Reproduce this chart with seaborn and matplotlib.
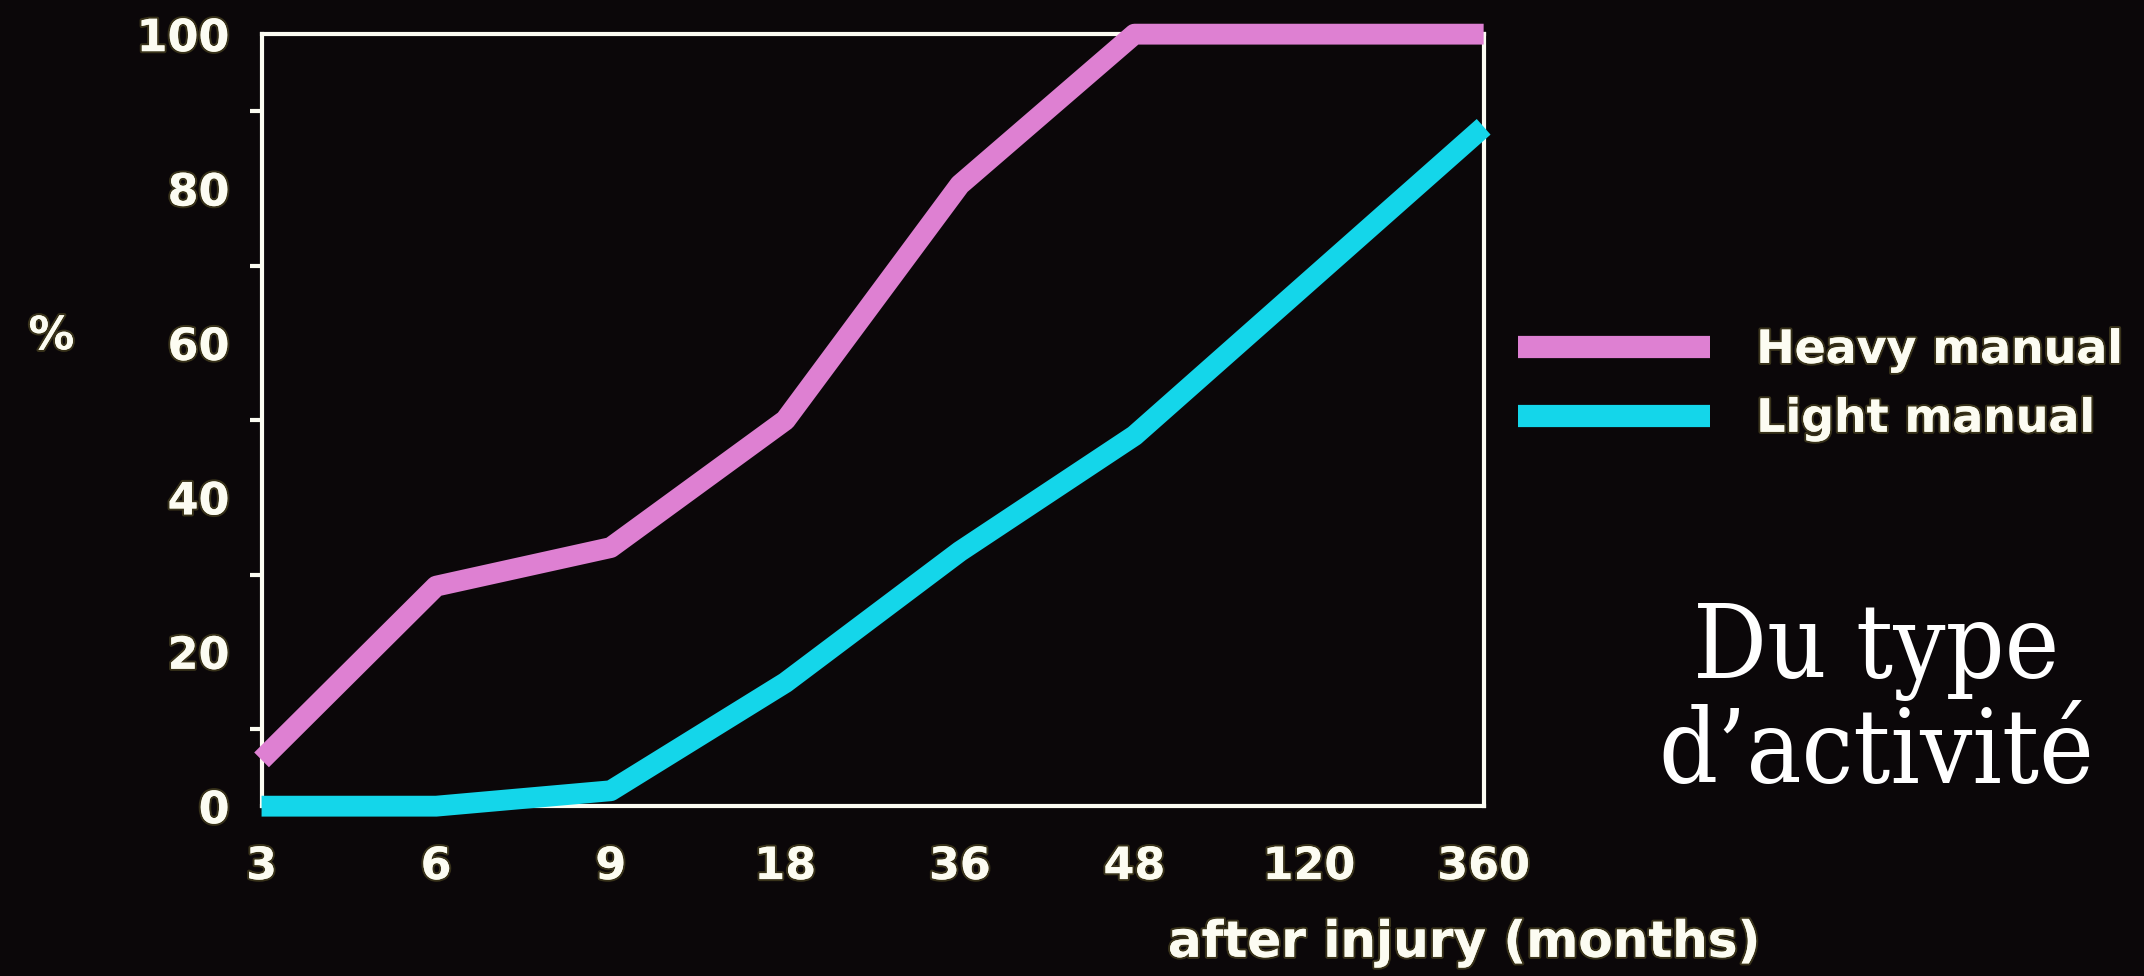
import pandas as pd
import matplotlib.pyplot as plt
import matplotlib.patheffects as pe
import seaborn as sns
from matplotlib.ticker import MultipleLocator

# ── Data ──────────────────────────────────────────────
months = ['3', '6', '9', '18', '36', '48', '120', '360']
heavy_manual = [6, 28.5, 33.5, 50, 80.5, 100, 100, 100]
light_manual = [0, 0, 2, 16, 33, 48, 68, 88]
series_names = ['Heavy manual', 'Light manual']
y_ticks = [0, 20, 40, 60, 80, 100]

df = pd.DataFrame({
    'months': months * 2,
    'pct': heavy_manual + light_manual,
    'group': [series_names[0]] * len(months) + [series_names[1]] * len(months),
})

BG = '#0b0709'
INK = '#FCFCF2'
PINK = '#DE80D2'
CYAN = '#14D6EA'

sns.set_theme(style='dark')
plt.rcParams['font.family'] = ['DejaVu Sans']
plt.rcParams['figure.facecolor'] = BG
plt.rcParams['axes.facecolor'] = BG

glow = [pe.withStroke(linewidth=3, foreground=(0.85, 0.8, 0.35, 0.22))]

fig = plt.figure(figsize=(21.44, 9.76), dpi=100)
ax = fig.add_axes([0.122, 0.174, 0.570, 0.791])

sns.lineplot(data=df, x='months', y='pct', hue='group',
             palette={series_names[0]: PINK, series_names[1]: CYAN},
             linewidth=15, ax=ax, legend=True, zorder=5)
for ln in ax.lines:
    ln.set_clip_on(False)
    ln.set_solid_capstyle('butt')

ax.set_xlim(0, len(months) - 1)
ax.set_ylim(0, 100)
ax.set_yticks(y_ticks)
ax.yaxis.set_minor_locator(MultipleLocator(10))
ax.grid(False)
ax.set_xlabel('')
ax.set_ylabel('')

for sp in ax.spines.values():
    sp.set_color(INK)
    sp.set_linewidth(3)
    sp.set_visible(True)

ax.tick_params(axis='both', which='both', direction='out', colors=INK,
               width=3, length=9)
ax.tick_params(axis='x', length=11, pad=17, labelsize=32)
ax.tick_params(axis='y', pad=14, labelsize=32)
ax.tick_params(axis='y', which='minor', left=True, length=9)
for lab in ax.get_xticklabels() + ax.get_yticklabels():
    lab.set_fontweight('bold')
    lab.set_path_effects(glow)

# ── Legend to the right of the box ────────────────────
handles, labels = ax.get_legend_handles_labels()
ax.get_legend().remove()
leg = fig.legend(handles, labels, loc='upper left',
                 bbox_to_anchor=(0.708, 0.664), frameon=False,
                 fontsize=33, handlelength=4.2, handletextpad=1.0,
                 labelspacing=0.52, borderpad=0, borderaxespad=0)
for h in leg.get_lines():
    h.set_linewidth(16)
    h.set_solid_capstyle('butt')
for t in leg.get_texts():
    t.set_color(INK)
    t.set_fontweight('bold')
    t.set_path_effects(glow)

fig.text(0.024, 0.655, '%', color=INK, fontsize=33, fontweight='bold',
         ha='center', va='center', path_effects=glow)
fig.text(0.683, 0.034, 'after injury (months)', color=INK, fontsize=36,
         fontweight='bold', ha='center', va='center', path_effects=glow)
fig.text(0.875, 0.280, 'Du type\nd\u2019activit\u00e9', color='white',
         fontsize=74, family='DejaVu Serif', fontstretch='condensed',
         ha='center', va='center', linespacing=1.05)

plt.savefig('out.png', dpi=100, facecolor=BG)
